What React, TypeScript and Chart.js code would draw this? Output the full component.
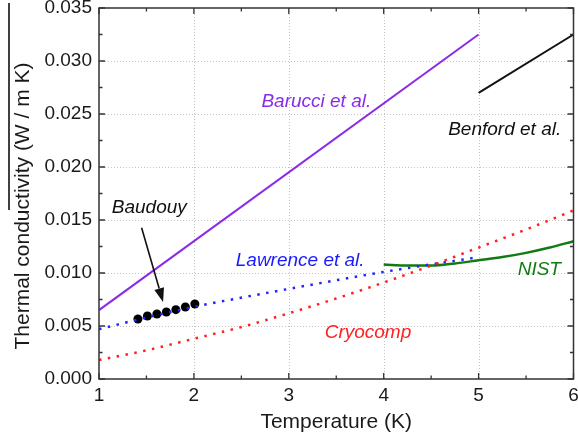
import React, { useEffect, useRef } from 'react';
import { Chart, registerables } from 'chart.js';

Chart.register(...registerables);

// ---- Data ----
const xTickValues = [1, 2, 3, 4, 5, 6];
const yTickValues = [0, 0.005, 0.01, 0.015, 0.02, 0.025, 0.03, 0.035];

const baruccitT = [1, 5];
const barucciK = [0.0065, 0.0325];

const benfordT = [5, 6];
const benfordK = [0.0270, 0.0325];

const lawrenceT = [1, 1.5, 2, 3, 4, 5];
const lawrenceK = [0.0047, 0.0058, 0.0068, 0.0085, 0.0101, 0.0115];

const cryoT = [1, 1.5, 2, 2.5, 3, 3.5, 4, 4.5, 5, 5.5, 6];
const cryoK = [0.0018, 0.0027, 0.0038, 0.0049, 0.0062, 0.0076, 0.0091, 0.0107, 0.0124, 0.0141, 0.0159];

const nistT = [4, 4.25, 4.5, 4.75, 5, 5.25, 5.5, 5.75, 6];
const nistK = [0.0108, 0.0107, 0.0107, 0.0109, 0.0112, 0.0115, 0.0119, 0.0124, 0.0130];

const baudouyT = [1.41, 1.51, 1.61, 1.71, 1.81, 1.91, 2.01];
const baudouyK = [0.00566, 0.00594, 0.00613, 0.00632, 0.00654, 0.00679, 0.00708];

const labelTexts = ['Barucci et al.', 'Benford et al.', 'Baudouy', 'Lawrence et al.', 'NIST', 'Cryocomp'];
const labelX = [3.29, 5.275, 1.53, 3.12, 5.64, 3.834];
const labelY = [0.02566, 0.02302, 0.01569, 0.01066, 0.00981, 0.00384];
const labelColors = ['#8a2be8', '#111111', '#111111', '#1a1aff', '#137a13', '#ff2020'];

const arrowFrom = [1.449, 0.01427];
const arrowTo = [1.675, 0.00726];

const FONT = "'Liberation Sans', Arial, sans-serif";

const pts = (xs: number[], ys: number[]) => xs.map((x, i) => ({ x, y: ys[i] }));

const decorPlugin = {
  id: 'decor',
  beforeDatasetsDraw(chart: any) {
    const { ctx, chartArea: a, scales } = chart;
    const xs = scales.x, ys = scales.y;
    ctx.save();
    ctx.strokeStyle = '#c4c4c4';
    ctx.lineWidth = 1;
    ctx.setLineDash([1, 2]);
    xTickValues.forEach((v) => {
      const px = Math.round(xs.getPixelForValue(v)) + 0.5;
      if (px <= a.left + 1 || px >= a.right - 1) return;
      ctx.beginPath(); ctx.moveTo(px, a.top); ctx.lineTo(px, a.bottom); ctx.stroke();
    });
    yTickValues.forEach((v) => {
      const py = Math.round(ys.getPixelForValue(v)) + 0.5;
      if (py <= a.top + 1 || py >= a.bottom - 1) return;
      ctx.beginPath(); ctx.moveTo(a.left, py); ctx.lineTo(a.right, py); ctx.stroke();
    });
    ctx.restore();
  },
  afterDatasetsDraw(chart: any) {
    const { ctx, chartArea: a, scales } = chart;
    const xs = scales.x, ys = scales.y;
    ctx.save();
    // frame
    ctx.strokeStyle = '#333';
    ctx.lineWidth = 1.5;
    ctx.strokeRect(a.left, a.top, a.right - a.left, a.bottom - a.top);
    // ticks
    ctx.lineWidth = 1.3;
    const majL = 6, minL = 3.5;
    for (let i = 0; i < xTickValues.length; i++) {
      const v = xTickValues[i];
      const px = xs.getPixelForValue(v);
      ctx.beginPath();
      ctx.moveTo(px, a.bottom); ctx.lineTo(px, a.bottom - majL);
      ctx.moveTo(px, a.top); ctx.lineTo(px, a.top + majL);
      ctx.stroke();
      if (i < xTickValues.length - 1) {
        const pm = xs.getPixelForValue((v + xTickValues[i + 1]) / 2);
        ctx.beginPath();
        ctx.moveTo(pm, a.bottom); ctx.lineTo(pm, a.bottom - minL);
        ctx.moveTo(pm, a.top); ctx.lineTo(pm, a.top + minL);
        ctx.stroke();
      }
    }
    for (let i = 0; i < yTickValues.length; i++) {
      const v = yTickValues[i];
      const py = ys.getPixelForValue(v);
      ctx.beginPath();
      ctx.moveTo(a.left, py); ctx.lineTo(a.left + majL, py);
      ctx.moveTo(a.right, py); ctx.lineTo(a.right - majL, py);
      ctx.stroke();
      if (i < yTickValues.length - 1) {
        const pm = ys.getPixelForValue((v + yTickValues[i + 1]) / 2);
        ctx.beginPath();
        ctx.moveTo(a.left, pm); ctx.lineTo(a.left + minL, pm);
        ctx.moveTo(a.right, pm); ctx.lineTo(a.right - minL, pm);
        ctx.stroke();
      }
    }
    // labels
    ctx.font = `italic 19px ${FONT}`;
    ctx.textAlign = 'center';
    ctx.textBaseline = 'alphabetic';
    labelTexts.forEach((t, i) => {
      ctx.fillStyle = labelColors[i];
      ctx.fillText(t, xs.getPixelForValue(labelX[i]), ys.getPixelForValue(labelY[i]));
    });
    // arrow
    const x0 = xs.getPixelForValue(arrowFrom[0]), y0 = ys.getPixelForValue(arrowFrom[1]);
    const x1 = xs.getPixelForValue(arrowTo[0]), y1 = ys.getPixelForValue(arrowTo[1]);
    const ang = Math.atan2(y1 - y0, x1 - x0);
    const hl = 14, hw = 5;
    const bx = x1 - hl * Math.cos(ang), by = y1 - hl * Math.sin(ang);
    ctx.strokeStyle = '#111';
    ctx.fillStyle = '#111';
    ctx.lineWidth = 1.6;
    ctx.beginPath(); ctx.moveTo(x0, y0); ctx.lineTo(bx, by); ctx.stroke();
    ctx.beginPath();
    ctx.moveTo(x1, y1);
    ctx.lineTo(bx + hw * Math.sin(ang), by - hw * Math.cos(ang));
    ctx.lineTo(bx - hw * Math.sin(ang), by + hw * Math.cos(ang));
    ctx.closePath();
    ctx.fill();
    // axis titles
    ctx.fillStyle = '#1a1a1a';
    ctx.font = `21px ${FONT}`;
    ctx.textAlign = 'center';
    ctx.textBaseline = 'alphabetic';
    ctx.fillText('Temperature (K)', (a.left + a.right) / 2, 428);
    ctx.save();
    ctx.translate(29, 206);
    ctx.rotate(-Math.PI / 2);
    ctx.fillText('Thermal conductivity (W / m K)', 0, 0);
    ctx.restore();
    // stray edge line seen in the reference
    ctx.strokeStyle = '#000';
    ctx.lineWidth = 1.5;
    ctx.beginPath(); ctx.moveTo(9, 3); ctx.lineTo(9, 210); ctx.stroke();
    ctx.restore();
  },
};

export default function App() {
  const ref = useRef<HTMLCanvasElement | null>(null);
  useEffect(() => {
    if (!ref.current) return;
    const dotted = { borderDash: [2.5, 6.5], borderWidth: 2.5, borderCapStyle: 'butt' };
    const chart = new Chart(ref.current, {
      type: 'scatter',
      data: {
        datasets: [
          { data: pts(cryoT, cryoK), showLine: true, pointRadius: 0, borderColor: '#ff2020', cubicInterpolationMode: 'monotone', ...dotted },
          { data: pts(lawrenceT, lawrenceK), showLine: true, pointRadius: 0, borderColor: '#2424ff', cubicInterpolationMode: 'monotone', ...dotted },
          { data: pts(baruccitT, barucciK), showLine: true, pointRadius: 0, borderColor: '#8a2be8', borderWidth: 2 },
          { data: pts(benfordT, benfordK), showLine: true, pointRadius: 0, borderColor: '#111111', borderWidth: 2 },
          { data: pts(nistT, nistK), showLine: true, pointRadius: 0, borderColor: '#137a13', borderWidth: 2.5, cubicInterpolationMode: 'monotone' },
          { data: pts(baudouyT, baudouyK), showLine: false, pointRadius: 4.5, backgroundColor: '#000', borderColor: '#000', borderWidth: 0 },
        ] as any,
      },
      options: {
        animation: false,
        responsive: false,
        layout: { padding: { top: 8, right: 3, left: 0, bottom: 0 } },
        plugins: { legend: { display: false }, tooltip: { enabled: false } },
        scales: {
          x: {
            type: 'linear',
            min: 1,
            max: 6,
            grid: { display: false, drawTicks: false },
            border: { display: false },
            afterBuildTicks: (s: any) => { s.ticks = xTickValues.map((v) => ({ value: v })); },
            ticks: { padding: 5, color: '#1a1a1a', font: { family: FONT, size: 19 }, maxRotation: 0, autoSkip: false },
            afterFit: (s: any) => { s.height = 58; s.paddingLeft = 0; s.paddingRight = 0; },
          },
          y: {
            type: 'linear',
            min: 0,
            max: 0.035,
            grid: { display: false, drawTicks: false },
            border: { display: false },
            afterBuildTicks: (s: any) => { s.ticks = yTickValues.map((v) => ({ value: v })); },
            ticks: { padding: 7, color: '#1a1a1a', font: { family: FONT, size: 19 }, callback: (v: any) => Number(v).toFixed(3), autoSkip: false },
            afterFit: (s: any) => { s.width = 99; s.paddingTop = 0; s.paddingBottom = 0; },
          },
        },
      } as any,
      plugins: [decorPlugin],
    });
    return () => chart.destroy();
  }, []);
  return (
    <div style={{ position: 'fixed', left: 0, top: 0, width: 578, height: 437, background: '#fff' }}>
      <canvas ref={ref} width={578} height={437} style={{ width: 578, height: 437 }} />
    </div>
  );
}
